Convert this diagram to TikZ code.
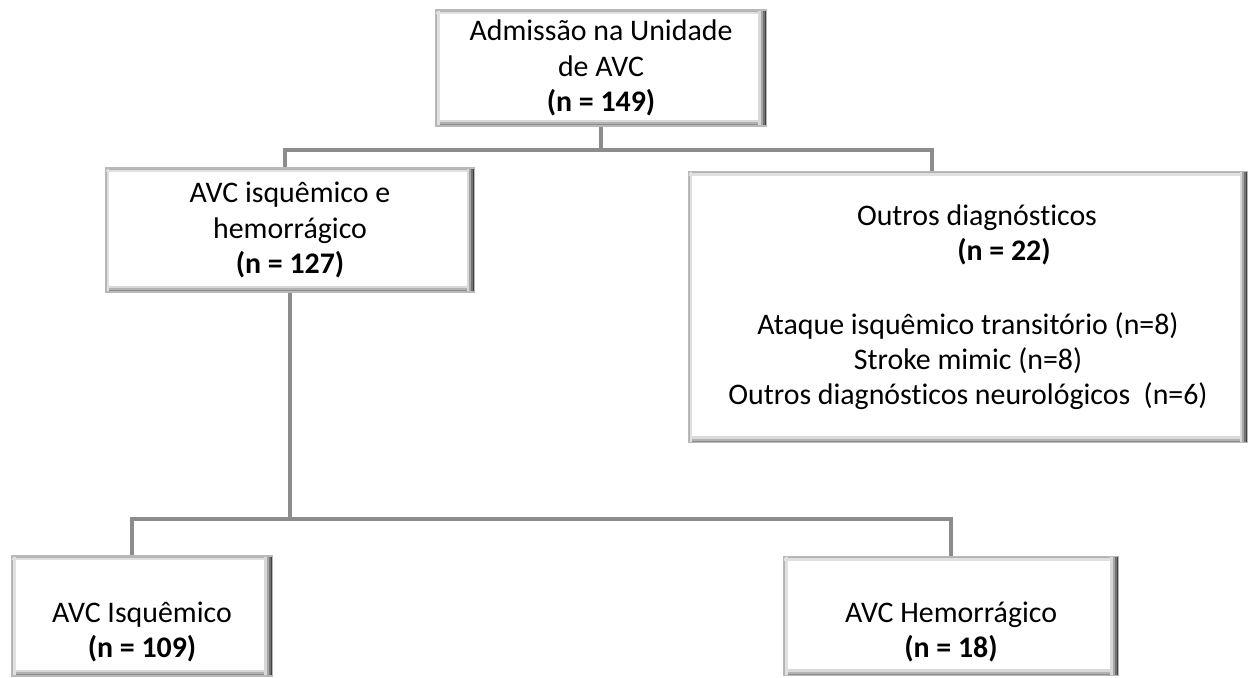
\documentclass[tikz,border=0pt]{standalone}
\usepackage{fontspec}
\setmainfont[Ligatures=NoCommon]{Carlito}
\usepackage{tikz}

\begin{document}
\begin{tikzpicture}[x=0.02cm, y=-0.02cm, font=\fontsize{17pt}{20pt}\selectfont,
    bx/.style={draw=gray!55, line width=0.6pt, fill=white, align=center, inner sep=2pt,
      path picture={
        \foreach \d/\c in {0.02/75,0.06/55,0.10/35,0.14/15}
          \draw[black!\c, line width=0.045cm] ([xshift=-\d cm]path picture bounding box.north east) -- ([xshift=-\d cm]path picture bounding box.south east);
        \foreach \d/\c in {0.02/45,0.06/30,0.10/15}
          \draw[black!\c, line width=0.045cm] ([yshift=\d cm]path picture bounding box.south west) -- ([yshift=\d cm, xshift=-0.16cm]path picture bounding box.south east);
        \foreach \d/\c in {0.02/30,0.06/12}
          \draw[black!\c, line width=0.045cm] ([xshift=\d cm]path picture bounding box.north west) -- ([xshift=\d cm]path picture bounding box.south west)
            ([yshift=-\d cm]path picture bounding box.north west) -- ([yshift=-\d cm, xshift=-0.16cm]path picture bounding box.north east);}},
    ln/.style={draw=gray!90, line width=2.3pt}]
  \useasboundingbox (0,0) rectangle (1254,677);
  % admission
  \node[bx, minimum width=6.62cm, minimum height=2.32cm] (adm) at (601,68)
    {Admissão na Unidade\\ de AVC\\ \textbf{(n = 149)}};
  % stroke vs other diagnoses
  \node[bx, minimum width=7.4cm, minimum height=2.48cm] (avc) at (290,230)
    {AVC isquêmico e\\ hemorrágico\\ \textbf{(n = 127)}};
  \node[bx, minimum width=11.2cm, minimum height=5.42cm] (outros) at (968,307)
    {\hspace*{0.36cm}Outros diagnósticos\\ \hspace*{1.44cm}\textbf{(n = 22)}\\[0.78cm]
     Ataque isquêmico transitório (n=8)\\ Stroke mimic (n=8)\\ Outros diagnósticos neurológicos\ \ (n=6)};
  % stroke subtypes
  \node[bx, minimum width=5.22cm, minimum height=2.4cm] (isq) at (142,616) {};
  \node[align=center] (isqT) at (142,632) {AVC Isquêmico\\ \textbf{(n = 109)}};
  \node[bx, minimum width=6.7cm, minimum height=2.38cm] (hem) at (951,616) {};
  \node[align=center] (hemT) at (951,632) {AVC Hemorrágico\\ \textbf{(n = 18)}};
  % connectors
  \coordinate (j1) at (0,150);
  \coordinate (j2) at (0,519);
  \draw[ln] (adm.south) -- (adm.south |- j1) -| ([xshift=-0.1cm]avc.north);
  \draw[ln] (adm.south |- j1) -| ([xshift=-0.72cm]outros.north);
  \draw[ln] (avc.south) -- (avc.south |- j2) -| ([xshift=-0.2cm]isq.north);
  \draw[ln] (avc.south |- j2) -| (hem.north);
\end{tikzpicture}
\end{document}
